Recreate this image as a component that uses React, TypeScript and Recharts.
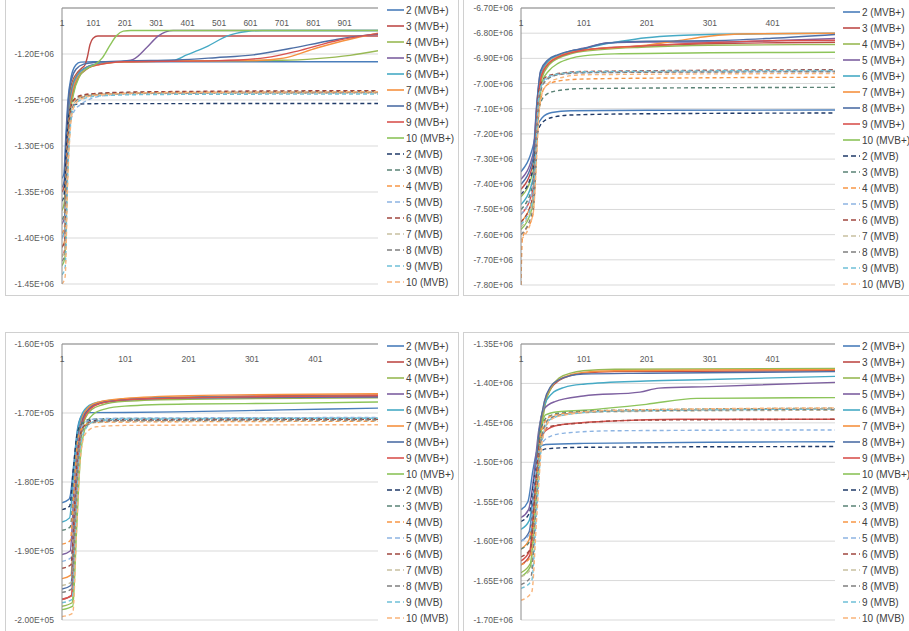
import { LineChart, Line, XAxis, YAxis, CartesianGrid } from "recharts";

type Pt = [number, number];

// series labels: number of clusters, solid = MVB+, dashed = MVB
const NUMS = [2, 3, 4, 5, 6, 7, 8, 9, 10];
const PLUS_COLORS = ["#4A7EBB", "#BE4B48", "#98B954", "#7D60A0", "#46AAC5", "#F69240", "#4E6FA6", "#D9534F", "#8DC45A"];
const MVB_COLORS  = ["#1F3A68", "#5A8275", "#F79646", "#8DB4E2", "#A0473F", "#C8C0A0", "#7F7F7F", "#6FC0D8", "#F9B47A"];

// ---- top-left panel (iterations 1..1007, values x 1e6)
const P1_X_TICKS = [1, 101, 201, 301, 401, 501, 601, 701, 801, 901];
const P1_Y_TICKS = [-1.45, -1.40, -1.35, -1.30, -1.25, -1.20];
const P1_PLUS: Pt[][] = [
    [[1,-1.335],[7,-1.33],[13,-1.29],[20,-1.25],[30,-1.225],[45,-1.212],[60,-1.2088],[100,-1.2085],[1007,-1.2085]],
    [[1,-1.35],[8,-1.343],[14,-1.30],[21,-1.255],[32,-1.232],[48,-1.221],[65,-1.215],[74,-1.212],[82,-1.203],[90,-1.19],[100,-1.183],[115,-1.1805],[1007,-1.1805]],
    [[1,-1.37],[8,-1.362],[15,-1.31],[22,-1.26],[33,-1.235],[50,-1.222],[75,-1.215],[110,-1.211],[200,-1.2085],[400,-1.2075],[700,-1.2068],[812,-1.205],[918,-1.2015],[1007,-1.1965]],
    [[1,-1.385],[9,-1.377],[16,-1.315],[23,-1.262],[34,-1.236],[50,-1.223],[75,-1.215],[110,-1.211],[200,-1.2078],[228,-1.2058],[270,-1.1932],[307,-1.1805],[355,-1.1744],[1007,-1.1744]],
    [[1,-1.40],[9,-1.392],[16,-1.32],[24,-1.265],[35,-1.238],[52,-1.223],[78,-1.215],[115,-1.211],[200,-1.208],[355,-1.2068],[398,-1.201],[462,-1.192],[526,-1.1805],[589,-1.1755],[640,-1.1744],[1007,-1.1744]],
    [[1,-1.41],[10,-1.402],[17,-1.325],[25,-1.267],[36,-1.24],[54,-1.224],[80,-1.216],[120,-1.2115],[200,-1.2085],[400,-1.2075],[620,-1.207],[706,-1.2045],[812,-1.1935],[918,-1.184],[1007,-1.1775]],
    [[1,-1.345],[8,-1.338],[14,-1.295],[21,-1.252],[31,-1.228],[47,-1.216],[70,-1.211],[110,-1.209],[200,-1.2075],[366,-1.2065],[490,-1.204],[610,-1.201],[727,-1.194],[862,-1.185],[970,-1.1795],[1007,-1.1785]],
    [[1,-1.42],[10,-1.412],[17,-1.33],[25,-1.27],[37,-1.242],[55,-1.225],[82,-1.216],[120,-1.2115],[200,-1.2085],[500,-1.2072],[650,-1.204],[760,-1.196],[880,-1.185],[1007,-1.1778]],
    [[1,-1.43],[10,-1.422],[18,-1.335],[26,-1.272],[38,-1.243],[56,-1.225],[80,-1.216],[110,-1.2105],[130,-1.204],[153,-1.191],[175,-1.18],[196,-1.1752],[220,-1.1744],[1007,-1.1744]],
];
const P1_MVB: Pt[][] = [
    [[1,-1.36],[8,-1.352],[15,-1.30],[22,-1.268],[32,-1.257],[50,-1.2545],[100,-1.254],[1007,-1.2538]],
    [[1,-1.38],[9,-1.372],[16,-1.31],[23,-1.27],[33,-1.252],[55,-1.2465],[120,-1.243],[300,-1.2415],[1007,-1.2405]],
    [[1,-1.395],[9,-1.387],[16,-1.315],[24,-1.272],[34,-1.253],[55,-1.247],[120,-1.2435],[300,-1.242],[1007,-1.2415]],
    [[1,-1.40],[10,-1.392],[18,-1.32],[28,-1.275],[40,-1.262],[60,-1.255],[90,-1.249],[130,-1.2455],[250,-1.2425],[1007,-1.241]],
    [[1,-1.41],[10,-1.402],[17,-1.318],[25,-1.272],[35,-1.252],[55,-1.2455],[120,-1.2425],[300,-1.241],[1007,-1.2398]],
    [[1,-1.42],[10,-1.412],[18,-1.325],[26,-1.275],[36,-1.255],[58,-1.248],[120,-1.2445],[300,-1.243],[1007,-1.2425]],
    [[1,-1.425],[11,-1.417],[18,-1.328],[27,-1.276],[37,-1.256],[58,-1.248],[120,-1.244],[300,-1.2425],[1007,-1.242]],
    [[1,-1.44],[11,-1.432],[19,-1.335],[28,-1.278],[38,-1.258],[60,-1.25],[120,-1.2455],[300,-1.244],[1007,-1.2435]],
    [[1,-1.45],[11,-1.442],[19,-1.34],[28,-1.28],[38,-1.258],[60,-1.249],[120,-1.2445],[300,-1.242],[1007,-1.241]],
];

// ---- top-right panel (iterations 1..500, values x 1e6)
const P2_X_TICKS = [1, 101, 201, 301, 401];
const P2_Y_TICKS = [-7.8, -7.7, -7.6, -7.5, -7.4, -7.3, -7.2, -7.1, -7.0, -6.9, -6.8, -6.7];
const P2_PLUS: Pt[][] = [
    [[1,-7.35],[20,-7.25],[27,-7.17],[35,-7.135],[50,-7.115],[80,-7.108],[200,-7.106],[500,-7.105]],
    [[1,-7.42],[20,-7.32],[26,-7.12],[33,-6.97],[45,-6.92],[60,-6.895],[80,-6.877],[100,-6.866],[200,-6.85],[300,-6.842],[500,-6.836]],
    [[1,-7.45],[20,-7.35],[27,-7.13],[34,-6.98],[46,-6.925],[60,-6.9],[80,-6.882],[100,-6.872],[200,-6.855],[300,-6.848],[500,-6.845]],
    [[1,-7.38],[20,-7.28],[26,-7.08],[32,-6.955],[44,-6.91],[60,-6.888],[80,-6.87],[100,-6.86],[140,-6.838],[200,-6.835],[300,-6.835],[400,-6.83],[500,-6.821]],
    [[1,-7.48],[20,-7.38],[26,-7.1],[33,-6.96],[45,-6.91],[60,-6.888],[80,-6.872],[100,-6.862],[130,-6.845],[160,-6.832],[200,-6.818],[250,-6.809],[300,-6.805],[500,-6.80]],
    [[1,-7.55],[20,-7.45],[27,-7.12],[34,-6.965],[46,-6.915],[60,-6.893],[80,-6.876],[100,-6.868],[200,-6.848],[250,-6.83],[300,-6.812],[350,-6.803],[500,-6.80]],
    [[1,-7.40],[20,-7.30],[26,-7.09],[32,-6.95],[44,-6.905],[60,-6.885],[80,-6.87],[100,-6.862],[130,-6.842],[150,-6.837],[200,-6.832],[300,-6.83],[400,-6.82],[500,-6.805]],
    [[1,-7.52],[20,-7.42],[27,-7.11],[34,-6.965],[46,-6.918],[60,-6.895],[80,-6.878],[100,-6.868],[200,-6.85],[300,-6.838],[400,-6.83],[500,-6.828]],
    [[1,-7.58],[20,-7.48],[28,-7.15],[35,-6.99],[45,-6.95],[60,-6.92],[80,-6.9],[100,-6.89],[150,-6.882],[300,-6.878],[500,-6.876]],
];
const P2_MVB: Pt[][] = [
    [[1,-7.44],[20,-7.34],[27,-7.2],[35,-7.155],[50,-7.135],[80,-7.125],[200,-7.12],[500,-7.117]],
    [[1,-7.50],[20,-7.40],[28,-7.12],[38,-7.05],[55,-7.03],[100,-7.02],[500,-7.015]],
    [[1,-7.80],[3,-7.62],[20,-7.52],[30,-7.1],[40,-7.01],[60,-6.99],[100,-6.982],[300,-6.977],[500,-6.975]],
    [[1,-7.52],[20,-7.42],[30,-7.05],[40,-6.985],[60,-6.965],[100,-6.957],[500,-6.952]],
    [[1,-7.55],[20,-7.45],[30,-7.02],[40,-6.975],[60,-6.96],[100,-6.952],[500,-6.945]],
    [[1,-7.57],[20,-7.47],[31,-7.03],[42,-6.98],[60,-6.962],[100,-6.955],[500,-6.95]],
    [[1,-7.60],[20,-7.5],[31,-7.04],[42,-6.985],[60,-6.965],[100,-6.957],[500,-6.953]],
    [[1,-7.56],[20,-7.46],[30,-7.04],[40,-6.98],[60,-6.962],[100,-6.953],[500,-6.948]],
    [[1,-7.62],[20,-7.52],[32,-7.06],[44,-7.0],[60,-6.98],[100,-6.965],[500,-6.96]],
];

// ---- bottom-left panel (iterations 1..500, values x 1e5)
const P3_X_TICKS = [1, 101, 201, 301, 401];
const P3_Y_TICKS = [-2.0, -1.9, -1.8, -1.7, -1.6];
const P3_PLUS: Pt[][] = [
    [[1,-1.83],[12,-1.825],[14,-1.82],[20,-1.77],[26,-1.72],[33,-1.703],[45,-1.6995],[100,-1.6993],[200,-1.698],[350,-1.6955],[500,-1.693]],
    [[1,-1.97],[16,-1.965],[22,-1.85],[28,-1.75],[34,-1.71],[45,-1.693],[60,-1.686],[100,-1.681],[200,-1.677],[500,-1.674]],
    [[1,-1.98],[17,-1.975],[23,-1.86],[29,-1.755],[36,-1.712],[48,-1.695],[65,-1.688],[100,-1.683],[200,-1.68],[500,-1.678]],
    [[1,-1.905],[14,-1.9],[20,-1.81],[26,-1.735],[33,-1.705],[45,-1.69],[60,-1.685],[100,-1.681],[200,-1.678],[500,-1.677]],
    [[1,-1.858],[13,-1.852],[19,-1.79],[25,-1.73],[32,-1.703],[44,-1.689],[60,-1.684],[100,-1.68],[200,-1.677],[500,-1.675]],
    [[1,-1.94],[15,-1.935],[21,-1.83],[27,-1.745],[33,-1.707],[45,-1.69],[60,-1.684],[100,-1.679],[200,-1.675],[500,-1.672]],
    [[1,-1.955],[15,-1.95],[21,-1.84],[27,-1.748],[34,-1.708],[46,-1.692],[60,-1.686],[100,-1.681],[200,-1.678],[500,-1.676]],
    [[1,-1.97],[16,-1.964],[22,-1.85],[28,-1.752],[35,-1.71],[47,-1.693],[62,-1.686],[100,-1.681],[200,-1.678],[500,-1.675]],
    [[1,-1.985],[18,-1.98],[24,-1.87],[30,-1.765],[38,-1.72],[50,-1.702],[70,-1.694],[100,-1.69],[200,-1.687],[350,-1.686],[500,-1.684]],
];
const P3_MVB: Pt[][] = [
    [[1,-1.84],[13,-1.835],[19,-1.78],[25,-1.73],[32,-1.716],[45,-1.711],[100,-1.71],[500,-1.709]],
    [[1,-1.87],[14,-1.865],[20,-1.8],[26,-1.735],[33,-1.715],[46,-1.709],[100,-1.708],[500,-1.7075]],
    [[1,-1.89],[14,-1.885],[20,-1.81],[26,-1.74],[34,-1.72],[48,-1.714],[100,-1.713],[500,-1.712]],
    [[1,-1.915],[15,-1.91],[21,-1.82],[27,-1.742],[35,-1.716],[50,-1.709],[100,-1.7075],[500,-1.7065]],
    [[1,-1.925],[15,-1.92],[21,-1.83],[27,-1.745],[35,-1.72],[50,-1.712],[100,-1.71],[500,-1.709]],
    [[1,-1.95],[16,-1.945],[22,-1.84],[28,-1.75],[36,-1.722],[52,-1.714],[100,-1.712],[500,-1.711]],
    [[1,-1.96],[16,-1.955],[22,-1.845],[28,-1.752],[36,-1.722],[52,-1.713],[100,-1.711],[500,-1.71]],
    [[1,-1.975],[17,-1.97],[23,-1.855],[29,-1.757],[37,-1.725],[53,-1.712],[100,-1.709],[500,-1.7075]],
    [[1,-1.995],[18,-1.99],[24,-1.87],[30,-1.765],[38,-1.73],[55,-1.72],[100,-1.718],[500,-1.717]],
];

// ---- bottom-right panel (iterations 1..500, values x 1e6)
const P4_X_TICKS = [1, 101, 201, 301, 401];
const P4_Y_TICKS = [-1.70, -1.65, -1.60, -1.55, -1.50, -1.45, -1.40, -1.35];
const P4_PLUS: Pt[][] = [
    [[1,-1.56],[12,-1.55],[20,-1.51],[28,-1.482],[40,-1.4775],[100,-1.476],[300,-1.4745],[500,-1.474]],
    [[1,-1.63],[15,-1.618],[23,-1.54],[31,-1.465],[39,-1.425],[49,-1.406],[62,-1.396],[80,-1.39],[100,-1.387],[150,-1.385],[500,-1.384]],
    [[1,-1.64],[16,-1.628],[24,-1.55],[32,-1.468],[40,-1.425],[50,-1.404],[62,-1.393],[80,-1.387],[100,-1.384],[150,-1.382],[500,-1.381]],
    [[1,-1.57],[13,-1.56],[21,-1.52],[29,-1.46],[38,-1.432],[55,-1.423],[100,-1.416],[190,-1.411],[220,-1.406],[300,-1.404],[500,-1.3986]],
    [[1,-1.585],[14,-1.574],[22,-1.53],[30,-1.46],[38,-1.428],[50,-1.413],[70,-1.405],[100,-1.401],[200,-1.397],[300,-1.395],[500,-1.391]],
    [[1,-1.61],[14,-1.598],[22,-1.535],[30,-1.462],[38,-1.424],[48,-1.405],[62,-1.395],[80,-1.389],[100,-1.386],[150,-1.384],[300,-1.383],[500,-1.3825]],
    [[1,-1.60],[14,-1.588],[22,-1.53],[30,-1.46],[38,-1.423],[48,-1.404],[62,-1.395],[80,-1.39],[100,-1.388],[200,-1.387],[500,-1.385]],
    [[1,-1.625],[15,-1.612],[23,-1.54],[32,-1.475],[40,-1.46],[60,-1.453],[150,-1.4475],[250,-1.4455],[500,-1.4455]],
    [[1,-1.645],[16,-1.632],[24,-1.56],[32,-1.47],[40,-1.44],[60,-1.436],[100,-1.434],[200,-1.4265],[280,-1.419],[500,-1.418]],
];
const P4_MVB: Pt[][] = [
    [[1,-1.575],[14,-1.565],[22,-1.52],[30,-1.49],[40,-1.483],[100,-1.481],[500,-1.48]],
    [[1,-1.61],[15,-1.6],[23,-1.535],[32,-1.46],[44,-1.442],[70,-1.437],[150,-1.434],[500,-1.4315]],
    [[1,-1.63],[16,-1.62],[24,-1.54],[33,-1.462],[45,-1.443],[70,-1.438],[150,-1.435],[500,-1.432]],
    [[1,-1.60],[15,-1.59],[23,-1.52],[32,-1.48],[45,-1.468],[70,-1.463],[150,-1.46],[500,-1.459]],
    [[1,-1.62],[16,-1.61],[24,-1.53],[32,-1.47],[45,-1.455],[100,-1.45],[200,-1.4465],[500,-1.4455]],
    [[1,-1.645],[17,-1.635],[25,-1.55],[34,-1.465],[46,-1.444],[70,-1.439],[150,-1.436],[500,-1.434]],
    [[1,-1.655],[17,-1.645],[25,-1.555],[34,-1.467],[46,-1.445],[70,-1.439],[150,-1.435],[500,-1.433]],
    [[1,-1.66],[18,-1.65],[26,-1.56],[35,-1.47],[47,-1.446],[70,-1.44],[150,-1.435],[500,-1.4325]],
    [[1,-1.675],[18,-1.665],[26,-1.57],[35,-1.472],[47,-1.447],[70,-1.44],[150,-1.434],[500,-1.431]],
];

const FONT = "'Liberation Sans', Arial, sans-serif";
const TEXT = "#595959";
const AXIS = "#8c8c8c";
const DASH = "4 3";

interface PanelCfg {
    left: number; top: number; w: number; h: number;
    plot: { l: number; r: number; t: number; b: number };
    legend: { x: number; y: number };
    xDomain: [number, number]; xTicks: number[];
    yDomain: [number, number]; yTicks: number[];
    exp: number;
    plus: Pt[][]; mvb: Pt[][];
}

const PANELS: PanelCfg[] = [
    { left: 6,   top: -5,  w: 452, h: 300, plot: { l: 62,  r: 378, t: 8,   b: 284 }, legend: { x: 387, y: 10 },
      xDomain: [1, 1007], xTicks: P1_X_TICKS, yDomain: [-1.45, -1.15], yTicks: P1_Y_TICKS, exp: 6, plus: P1_PLUS, mvb: P1_MVB },
    { left: 464, top: -5,  w: 450, h: 300, plot: { l: 521, r: 835, t: 8,   b: 285 }, legend: { x: 843, y: 12 },
      xDomain: [1, 500], xTicks: P2_X_TICKS, yDomain: [-7.8, -6.7], yTicks: P2_Y_TICKS, exp: 6, plus: P2_PLUS, mvb: P2_MVB },
    { left: 6,   top: 333, w: 452, h: 300, plot: { l: 62,  r: 378, t: 344, b: 620 }, legend: { x: 387, y: 346 },
      xDomain: [1, 500], xTicks: P3_X_TICKS, yDomain: [-2.0, -1.6], yTicks: P3_Y_TICKS, exp: 5, plus: P3_PLUS, mvb: P3_MVB },
    { left: 464, top: 333, w: 450, h: 300, plot: { l: 521, r: 835, t: 344, b: 620 }, legend: { x: 843, y: 346 },
      xDomain: [1, 500], xTicks: P4_X_TICKS, yDomain: [-1.7, -1.35], yTicks: P4_Y_TICKS, exp: 6, plus: P4_PLUS, mvb: P4_MVB },
];

const sci = (v: number, exp: number) => `${v.toFixed(2)}E+${String(exp).padStart(2, "0")}`;

function XTick({ x, y, payload }: any) {
    return (
        <text x={x} y={y + 18} textAnchor="middle" fontSize={8.5} fill={TEXT} fontFamily={FONT}>
            {payload.value}
        </text>
    );
}

function Panel({ cfg }: { cfg: PanelCfg }) {
    const { left, top, w, h, plot, legend } = cfg;
    const entries = [
        ...NUMS.map((n, i) => ({ name: `${n} (MVB+)`, color: PLUS_COLORS[i], dashed: false })),
        ...NUMS.map((n, i) => ({ name: `${n} (MVB)`, color: MVB_COLORS[i], dashed: true })),
    ];
    return (
        <div style={{ position: "absolute", left, top, width: w, height: h, outline: "1px solid #d0d0d0", background: "#fff" }}>
            <LineChart
                width={w} height={h}
                margin={{ top: plot.t - top - 1, right: left + w - plot.r, bottom: top + h - plot.b, left: 0 }}
            >
                <CartesianGrid vertical={false} stroke="#d9d9d9" />
                <XAxis
                    dataKey="x" type="number" orientation="top" height={1}
                    domain={cfg.xDomain} ticks={cfg.xTicks} interval={0} allowDataOverflow
                    tickSize={0} tickMargin={0} tick={<XTick />} stroke={AXIS}
                />
                <YAxis
                    type="number" width={plot.l - left}
                    domain={cfg.yDomain} ticks={cfg.yTicks} interval={0} allowDataOverflow
                    tickLine={false} stroke={AXIS}
                    tick={{ fontSize: 8.5, fill: TEXT, fontFamily: FONT }}
                    tickFormatter={(v: number) => sci(v, cfg.exp)}
                />
                {cfg.plus.map((pts, i) => (
                    <Line key={`p${i}`} data={pts.map(([x, y]) => ({ x, y }))} dataKey="y" name={entries[i].name}
                          type="monotone" stroke={PLUS_COLORS[i]} strokeWidth={1.4} dot={false} isAnimationActive={false} />
                ))}
                {cfg.mvb.map((pts, i) => (
                    <Line key={`m${i}`} data={pts.map(([x, y]) => ({ x, y }))} dataKey="y" name={entries[i + 9].name}
                          type="monotone" stroke={MVB_COLORS[i]} strokeWidth={1.4} strokeDasharray={DASH}
                          dot={false} isAnimationActive={false} />
                ))}
            </LineChart>
            <div style={{ position: "absolute", left: legend.x - left, top: legend.y - top - 8 }}>
                {entries.map(e => (
                    <div key={e.name} style={{ display: "flex", alignItems: "center", height: 16, whiteSpace: "nowrap" }}>
                        <svg width={17} height={4}>
                            <line x1={0} y1={2} x2={17} y2={2} stroke={e.color} strokeWidth={1.6}
                                  strokeDasharray={e.dashed ? "5 3" : undefined} />
                        </svg>
                        <span style={{ marginLeft: 2, fontSize: 10, color: "#404040", fontFamily: FONT }}>{e.name}</span>
                    </div>
                ))}
            </div>
        </div>
    );
}

export default function App() {
    return (
        <div style={{ position: "absolute", left: 0, top: 0, width: 909, height: 631, overflow: "hidden", background: "#fff" }}>
            {PANELS.map((p, i) => <Panel key={i} cfg={p} />)}
        </div>
    );
}
